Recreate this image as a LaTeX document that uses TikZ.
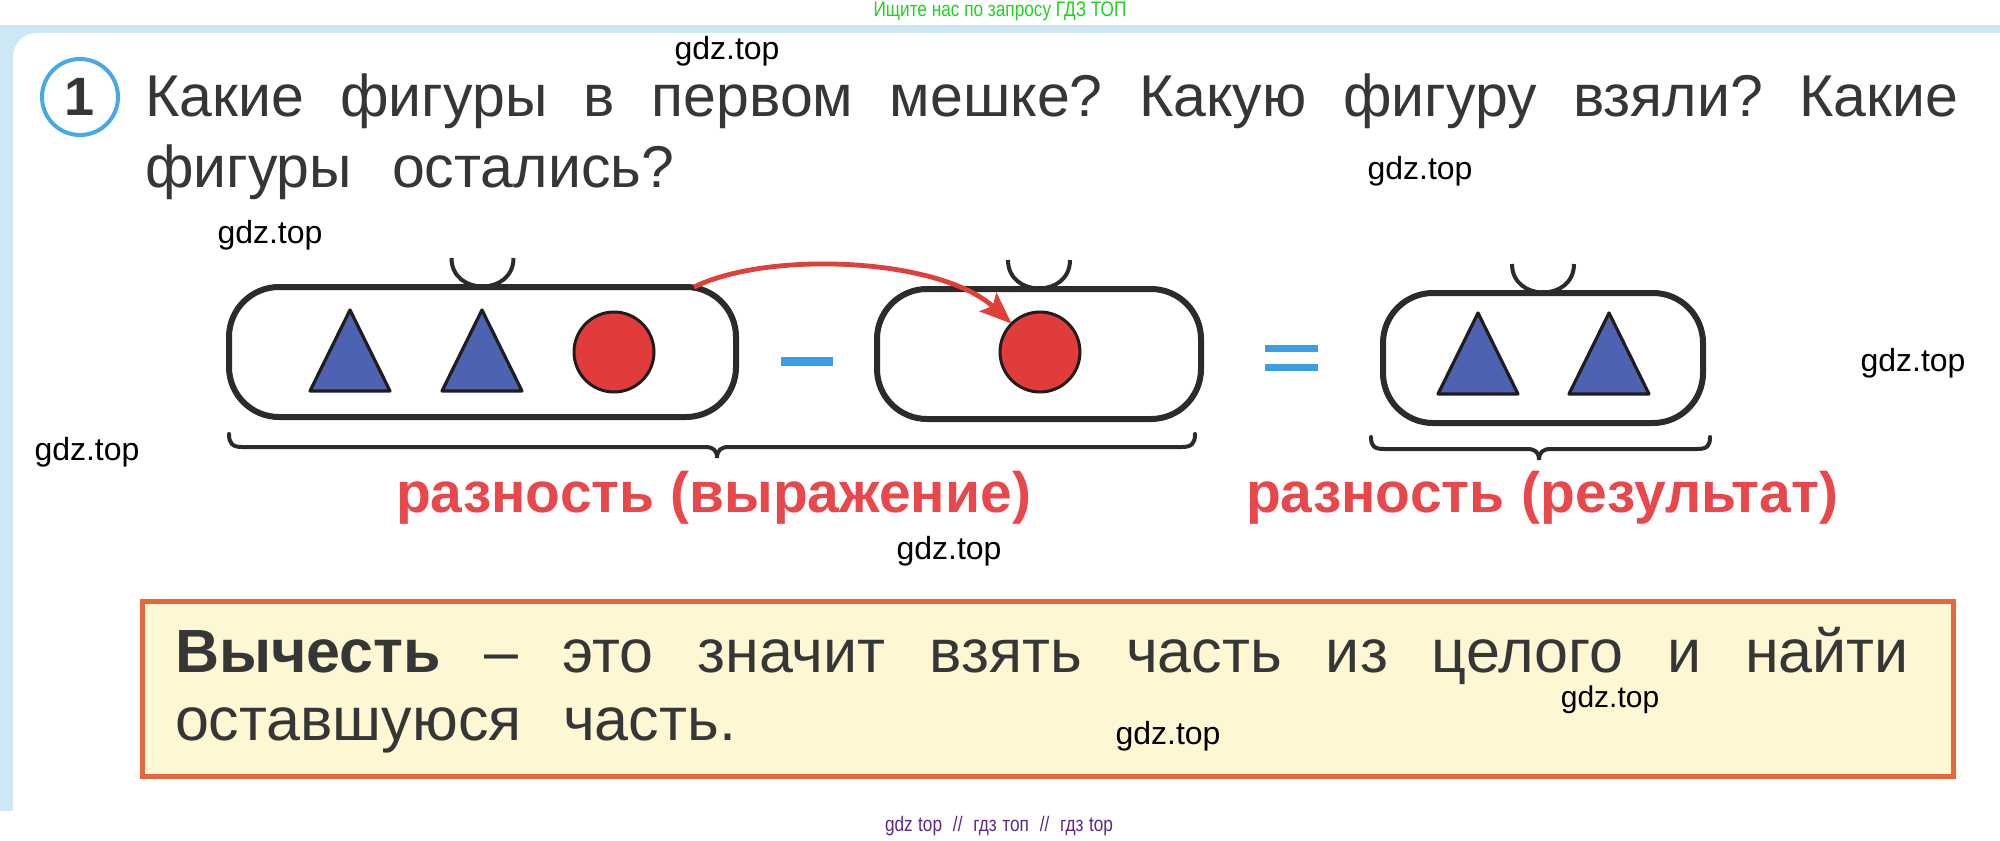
\documentclass[tikz,border=0pt]{standalone}
\usepackage{fontspec}
\setmainfont{Liberation Sans}
\newfontfamily\condfont[FakeStretch=0.82]{Liberation Sans}
\usetikzlibrary{arrows.meta,calc}
\frenchspacing
\definecolor{txtgray}{HTML}{363636}
\definecolor{bagline}{HTML}{2B2B2B}
\definecolor{outline}{HTML}{1E1E1E}
\definecolor{triblue}{HTML}{4E62B2}
\definecolor{ballred}{HTML}{E23B3B}
\definecolor{arrowred}{HTML}{E0403A}
\definecolor{labelred}{HTML}{E8474C}
\definecolor{opblue}{HTML}{3C9EE5}
\definecolor{boxfill}{HTML}{FDF8D3}
\definecolor{boxorange}{HTML}{E5683D}
\definecolor{bgblue}{HTML}{CDE8F4}
\definecolor{numblue}{HTML}{4AA8E6}
\definecolor{headgreen}{HTML}{1ED41E}
\definecolor{footpurple}{HTML}{5B2A86}
\begin{document}
\frenchspacing
\begin{tikzpicture}[x={(0.5pt,0)}, y={(0,-0.5pt)},
  every node/.style={inner sep=0pt, outer sep=0pt},
  titletext/.style={anchor=base west, text=txtgray, font=\fontsize{29.5}{35}\selectfont},
  deftext/.style={anchor=base west, text=txtgray, font=\fontsize{30.5}{35}\selectfont},
  redlabel/.style={anchor=base west, text=labelred, font=\bfseries\fontsize{28.5}{33}\selectfont},
  wm/.style={text=black, font=\fontsize{16}{18}\selectfont},
  bag/.style={draw=bagline, line width=3pt, rounded corners=25pt, minimum height=65pt, fill=white},
  handle/.style={draw=bagline, line width=2pt},
  ball/.style={circle, draw=outline, line width=1.5pt, fill=ballred, minimum size=40pt},
  tri/.pic={\filldraw[fill=triblue, draw=outline, line width=1.6pt, line join=round] (-40,40) -- (0,-41) -- (40,40) -- cycle;},
  opline/.style={draw=opblue},
  bracestyle/.style={draw=bagline, line width=2pt, line cap=round},
  redarrow/.style={draw=arrowred, line width=2.4pt, -{Stealth[length=16pt,width=12.5pt,inset=3pt]}}
]
\useasboundingbox (0,0) rectangle (2000,840);
\fill[white] (0,0) rectangle (2000,840);
% page background
\fill[bgblue] (0,25) rectangle (2000,811);
\begin{scope}
  \clip (0,0) rectangle (2000,811);
  \fill[white, rounded corners=12pt] (13,33) rectangle (2060,880);
\end{scope}

% header and footer
\node[text=headgreen, font=\condfont\fontsize{10.5}{12}\selectfont] (head) at (1000,11) {Ищите нас по запросу ГДЗ ТОП};
\node[text=footpurple, font=\condfont\fontsize{10.5}{12}\selectfont] (foot) at (999,826) {\makebox[114pt][s]{gdz top \ // \ гдз топ \ // \ гдз top}};

% task number
\node[circle, draw=numblue, line width=2pt, fill=white, minimum size=38pt, text=txtgray, font=\bfseries\fontsize{27}{27}\selectfont] (num) at (80,97) {1};

% title
\node[titletext] (t1) at (145,117) {\makebox[906.5pt][s]{Какие фигуры в первом мешке? Какую фигуру взяли? Какие}};
\node[titletext] (t2) at (145,187) {\makebox[264.5pt][s]{фигуры остались?}};

% bags
\node[bag, minimum width=253.5pt] (b1) at (482.5,352) {};
\node[bag, minimum width=162pt] (b2) at (1039,354) {};
\node[bag, minimum width=160pt] (b3) at (1543,358) {};

\foreach \b in {b1,b2,b3}{
  \draw[handle] ($(\b.north)+(-31,-29)$) .. controls +(0,38) and +(0,38) .. ($(\b.north)+(31,-29)$);
}

% contents
\pic at (350,351) {tri};
\pic at (482,351) {tri};
\node[ball] (c1) at (614,352) {};
\node[ball] (c2) at (1040,352) {};
\pic at (1478,354) {tri};
\pic at (1609,354) {tri};

% operators
\draw[opline, line width=4.5pt] (781,361) -- (833,361);
\draw[opline, line width=3.5pt] (1265,348) -- (1318,348);
\draw[opline, line width=3.5pt] (1265,367) -- (1318,367);

% braces
\draw[bracestyle] (229,434) .. controls (229,443) and (232,447) .. (242,447) -- (705,447)
  .. controls (713,447) and (717,450) .. (717,458) .. controls (717,450) and (721,447) .. (729,447)
  -- (1182,447) .. controls (1192,447) and (1195,443) .. (1195,434);
\draw[bracestyle] (1371,437) .. controls (1371,446) and (1374,449) .. (1384,449) -- (1527,449)
  .. controls (1535,449) and (1539,452) .. (1539,460) .. controls (1539,452) and (1543,449) .. (1551,449)
  -- (1697,449) .. controls (1707,449) and (1710,446) .. (1710,437);

% red labels
\node[redlabel] (l1) at (396,512) {\makebox[317.5pt][s]{разность (выражение)}};
\node[redlabel] (l2) at (1246,512) {\makebox[296pt][s]{разность (результат)}};

% arrow
\draw[redarrow] ([xshift=-21pt]b1.north east) .. controls (770,250) and (940,258) .. (c2.north west);

% definition box
\node[draw=boxorange, line width=2.5pt, fill=boxfill, minimum width=905.5pt, minimum height=87.5pt] (defbox) at (1048,689) {};
\node[deftext] (d1) at (175,672) {\makebox[867pt][s]{\textbf{Вычесть} – это значит взять часть из целого и найти}};
\node[deftext] (d2) at (175,740) {\makebox[280.5pt][s]{оставшуюся часть.}};

% watermarks
\node[wm] (w1) at (727,51) {gdz.top};
\node[wm] (w2) at (1420,171) {gdz.top};
\node[wm] (w3) at (270,235) {gdz.top};
\node[wm] (w4) at (87,452) {gdz.top};
\node[wm] (w5) at (1913,363) {gdz.top};
\node[wm] (w6) at (949,551) {gdz.top};
\node[wm, font=\fontsize{15}{17}\selectfont] (w7) at (1610,700) {gdz.top};
\node[wm] (w8) at (1168,736) {gdz.top};
\end{tikzpicture}
\end{document}
